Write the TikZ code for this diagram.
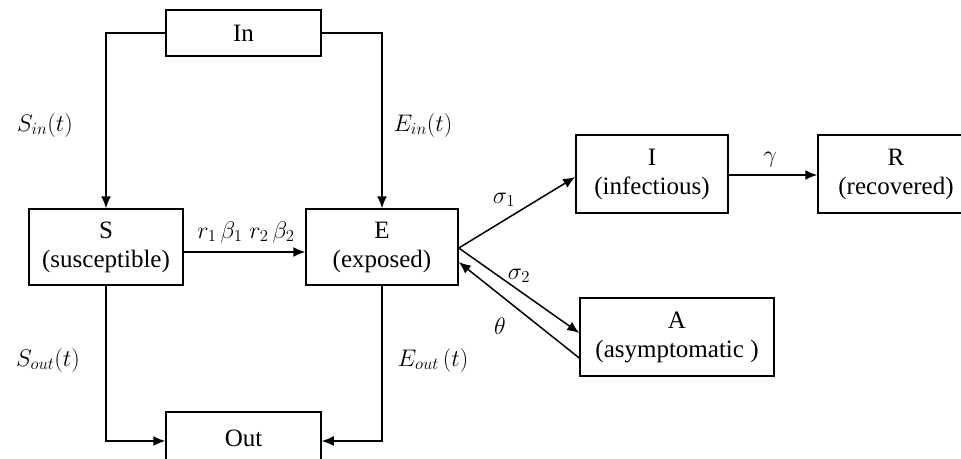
\RequirePackage{fix-cm}
\documentclass[tikz,border=0pt]{standalone}
\usepackage{fontspec}
\setmainfont{Liberation Serif}
\usetikzlibrary{arrows.meta}
\begin{document}
\begin{tikzpicture}[x=1pt,y=-1pt,
  box/.style={draw,line width=1.5pt,align=center,inner sep=0pt,font=\fontsize{25}{29}\selectfont},
  flow/.style={line width=1.5pt,-{Latex[length=12pt,width=10pt]}},
  lbl/.style={inner sep=0pt,font=\fontsize{24}{28}\selectfont}]
\useasboundingbox (0,0) rectangle (961,458);
\node[box,minimum width=155,minimum height=46] (In) at (243.5,33) {In};
\node[box,minimum width=154,minimum height=76] (S) at (106,247) {S\\(susceptible)};
\node[box,minimum width=152,minimum height=76] (E) at (382,247) {E\\(exposed)};
\node[box,minimum width=155,minimum height=52] (Out) at (243.5,438) {Out};
\node[box,minimum width=152,minimum height=78] (I) at (652,174) {I\\(infectious)};
\node[box,minimum width=156,minimum height=78] (R) at (896,174) {R\\(recovered)};
\node[box,minimum width=194,minimum height=78] (A) at (677,337) {A\\(asymptomatic )};
\draw[flow] (In.west) -| (S.north);
\draw[flow] (In.east) -| (E.north);
\draw[flow] (S.south) |- ([yshift=-3pt]Out.west);
\draw[flow] (E.south) |- ([yshift=-3pt]Out.east);
\draw[flow] ([yshift=-5pt]S.east) -- ([yshift=-5pt]E.west);
\draw[flow] ([yshift=-1pt]E.east) -- ([yshift=-3pt]I.west);
\draw[flow] ([yshift=-1pt]E.east) -- ([yshift=4pt]A.west);
\draw[flow] ([yshift=-21pt]A.west) -- ([yshift=-15pt]E.east);
\draw[flow] ([yshift=-1pt]I.east) -- ([yshift=-1pt]R.west);
\node[lbl] (lSin) at (45,125) {$S_{in}(t)$};
\node[lbl] (lEin) at (423,125) {$E_{in}(t)$};
\node[lbl] (lSout) at (48,360) {$S_{out}(t)$};
\node[lbl] (lEout) at (433,360) {$E_{out}\,(t)$};
\node[lbl] (lrb) at (246,232) {$r_1\,\beta_1\;r_2\,\beta_2$};
\node[lbl] (ls1) at (504,200) {$\sigma_1$};
\node[lbl] (ls2) at (519,276) {$\sigma_2$};
\node[lbl] (lth) at (500,326) {$\theta$};
\node[lbl] (lga) at (770,160) {$\gamma$};
\end{tikzpicture}
\end{document}
